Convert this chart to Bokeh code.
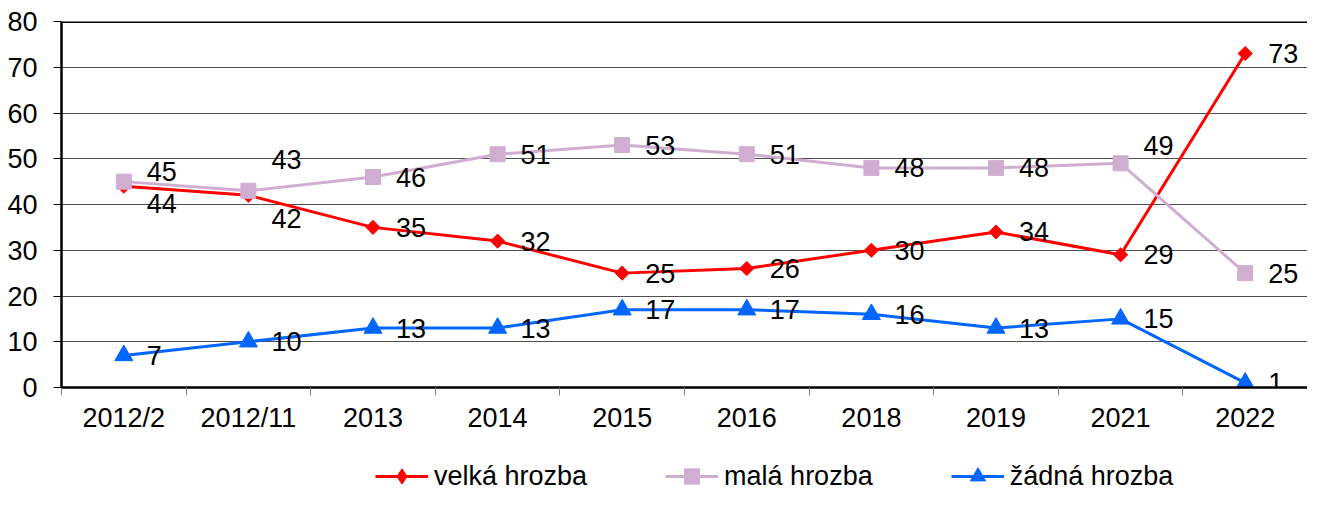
import math
import numpy as np
from bokeh.plotting import figure
from bokeh.layouts import column
from bokeh.models import (Range1d, FixedTicker, Span, Legend, LegendItem,
                          ColumnDataSource)
from bokeh.core.properties import value
from bokeh.embed import file_html
from bokeh.resources import INLINE

# ---- data ----
categories = ["2012/2", "2012/11", "2013", "2014", "2015", "2016", "2018", "2019", "2021", "2022"]
velka = [44, 42, 35, 32, 25, 26, 30, 34, 29, 73]
mala = [45, 43, 46, 51, 53, 51, 48, 48, 49, 25]
zadna = [7, 10, 13, 13, 17, 17, 16, 13, 15, 1]
y_ticks = [0, 10, 20, 30, 40, 50, 60, 70, 80]
series_names = ["velká hrozba", "malá hrozba", "žádná hrozba"]

# ---- label placement (screen px, + = down) ----
velka_dy = [17, 23, 0, 0, 0, 0, 0, 0, 0, 0]
mala_dy = [-10, -31, 0, 0, 0, 0, 0, 0, -18, 0]
zadna_dy = [0, 0, 0, 0, 0, 0, 0, 0, 0, 0]

FONT = "Liberation Sans"
FS = "27px"
RED = "#FF0000"
LILAC = "#D0AED2"
BLUE = "#0066FF"

xs = [i + 0.5 for i in range(len(categories))]

p = figure(width=1307, height=435, output_backend="svg", toolbar_location=None,
           x_range=Range1d(0, len(categories)), y_range=Range1d(y_ticks[0], y_ticks[-1]),
           min_border_left=61, min_border_right=0, min_border_top=21, min_border_bottom=48)
p.outline_line_color = None
p.background_fill_color = "white"
p.border_fill_color = "white"

# axes
xa = p.xaxis[0]
xa.ticker = FixedTicker(ticks=xs, minor_ticks=list(range(len(categories) + 1)))
xa.major_label_overrides = {x: c for x, c in zip(xs, categories)}
xa.major_tick_out = 0
xa.major_tick_in = 0
xa.minor_tick_out = 8
xa.minor_tick_in = 0
xa.minor_tick_line_color = "#808080"
xa.minor_tick_line_width = 1
xa.axis_line_color = "black"
xa.axis_line_width = 2.5
xa.major_label_text_font = FONT
xa.major_label_text_font_size = FS
xa.major_label_text_color = "black"
xa.major_label_standoff = 7

ya = p.yaxis[0]
ya.ticker = FixedTicker(ticks=y_ticks)
ya.major_tick_out = 8
ya.major_tick_in = 0
ya.major_tick_line_color = "black"
ya.major_tick_line_width = 1
ya.minor_tick_out = 0
ya.minor_tick_in = 0
ya.axis_line_color = "black"
ya.axis_line_width = 2.5
ya.major_label_text_font = FONT
ya.major_label_text_font_size = FS
ya.major_label_text_color = "black"
ya.major_label_standoff = 16

p.xgrid.visible = False
p.ygrid.ticker = FixedTicker(ticks=y_ticks[1:-1])
p.ygrid.grid_line_color = "#505050"
p.ygrid.grid_line_width = 1

p.add_layout(Span(location=y_ticks[-1], dimension="width", line_color="black", line_width=3))

# legend strip (separate figure below the chart)
pl = figure(width=1307, height=60, output_backend="svg", toolbar_location=None,
            x_axis_type=None, y_axis_type=None, min_border=0,
            x_range=Range1d(0, 1), y_range=Range1d(0, 1))
pl.outline_line_color = None
pl.grid.visible = False

# series: (values, label offsets, colour, chart marker, size, angle, legend marker)
items = []
specs = [
    (velka, velka_dy, RED, "square", 10, math.pi / 4, "diamond"),
    (mala, mala_dy, LILAC, "square", 15, 0, "square"),
    (zadna, zadna_dy, BLUE, "triangle", 18, 0, "triangle"),
]
label_sources = []
for name, (vals, dys, col, marker, size, ang, lmarker) in zip(series_names, specs):
    src = ColumnDataSource(dict(x=xs, y=vals, t=[str(v) for v in vals], dy=dys))
    p.line("x", "y", source=src, line_color=col, line_width=3)
    p.scatter("x", "y", source=src, marker=marker, size=size, angle=ang,
              fill_color=col, line_color=col)
    label_sources.append(src)
    # legend-only renderers (no visible data)
    dummy = ColumnDataSource(dict(x=np.array([np.nan]), y=np.array([np.nan])))
    lr = pl.line("x", "y", source=dummy, line_color=col, line_width=3)
    sr = pl.scatter("x", "y", source=dummy, marker=lmarker, size=size,
                    fill_color=col, line_color=col)
    items.append(LegendItem(label=name, renderers=[lr, sr]))

for src in label_sources:
    p.text("x", "y", text="t", source=src, x_offset=23, y_offset="dy",
           text_align="left", text_baseline="middle",
           text_font=value(FONT), text_font_size=FS, text_color="black")

legend = Legend(items=items, orientation="horizontal", location=(314, 0),
                glyph_width=53, glyph_height=38, label_standoff=6, spacing=78,
                padding=0, margin=0, border_line_color=None, background_fill_alpha=0,
                label_text_font=FONT, label_text_font_size=FS, label_text_color="black")
pl.add_layout(legend, "center")

layout = column(p, pl, spacing=0)
open("out.html", "w").write(file_html(layout, INLINE))
